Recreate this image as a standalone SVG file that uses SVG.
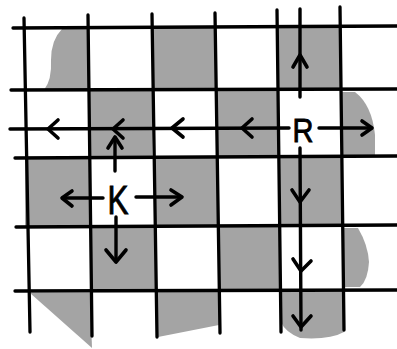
<svg xmlns="http://www.w3.org/2000/svg" width="397" height="349" viewBox="0 0 397 349">
<style>
.sh{fill:#a4a4a4;stroke:none}
.gl{stroke:#000;stroke-width:3.3;stroke-linecap:round;fill:none}
.ar{stroke:#000;stroke-width:3.4;stroke-linecap:round;fill:none}
.hd{stroke:#000;stroke-width:3.6;stroke-linecap:round;stroke-linejoin:round;fill:none}
.lb{font-family:"Liberation Sans",Arial,sans-serif;fill:#000;stroke:#000;stroke-width:0.9}
</style>
<rect width="397" height="349" fill="#fff"/>
<g id="shading">
<path class="sh" d="M62,29 H88 V90 H44 Q52,80 51,60 Q51,40 62,29 Z"/>
<rect class="sh" x="152" y="28" width="63" height="62"/>
<rect class="sh" x="277" y="27" width="63" height="63"/>
<rect class="sh" x="89" y="91" width="63" height="66"/>
<rect class="sh" x="216" y="90" width="62" height="67"/>
<path class="sh" d="M342,92 H355 Q372,105 375,135 V155 H342 Z"/>
<rect class="sh" x="25" y="158" width="64" height="68"/>
<rect class="sh" x="154" y="158" width="64" height="68"/>
<rect class="sh" x="279" y="157" width="63" height="69"/>
<rect class="sh" x="90" y="227" width="66" height="63"/>
<rect class="sh" x="218" y="226" width="62" height="64"/>
<path class="sh" d="M344,228 H358 Q368,245 369,262 Q368,280 360,287 H344 Z"/>
<path class="sh" d="M30,293 H90 L92,348 Z"/>
<path class="sh" d="M157,292 H219 V325 L158,337 Z"/>
<path class="sh" d="M280,292 H344 V332 Q330,340 300,338 Q285,332 281,322 Z"/>
</g>
<g id="grid">
<line class="gl" x1="13" y1="28" x2="397" y2="26"/>
<line class="gl" x1="11" y1="90" x2="397" y2="89"/>
<line class="gl" x1="15" y1="158" x2="397" y2="156"/>
<line class="gl" x1="16" y1="227" x2="397" y2="225"/>
<line class="gl" x1="15" y1="291" x2="397" y2="290"/>
<line class="gl" x1="24" y1="18" x2="30" y2="332"/>
<line class="gl" x1="88" y1="15" x2="92" y2="336"/>
<line class="gl" x1="152" y1="14" x2="157" y2="337"/>
<line class="gl" x1="215" y1="13" x2="220" y2="333"/>
<line class="gl" x1="277" y1="10" x2="281" y2="332"/>
<line class="gl" x1="340" y1="7" x2="344" y2="330"/>
</g>
<g id="connectors">
<line class="ar" x1="10" y1="129" x2="289" y2="128"/>
<polyline class="hd" points="58,120 48,129 58,138"/>
<polyline class="hd" points="123,120 113,129 123,138"/>
<polyline class="hd" points="183,119 172,128 183,137"/>
<polyline class="hd" points="252,119 242,128 252,137"/>
<line class="ar" x1="319" y1="128" x2="371" y2="128"/>
<polyline class="hd" points="362,121 372,128 362,135"/>
<line class="ar" x1="300" y1="9" x2="300" y2="97"/>
<polyline class="hd" points="293,67 300,55 307,67"/>
<line class="ar" x1="300" y1="148" x2="301" y2="330"/>
<polyline class="hd" points="292,190 300,202 309,190"/>
<polyline class="hd" points="293,259 301,271 311,261"/>
<polyline class="hd" points="293,316 301,327 311,316"/>
<line class="ar" x1="63" y1="198" x2="103" y2="198"/>
<polyline class="hd" points="72,191 62,198 72,206"/>
<line class="ar" x1="136" y1="197" x2="181" y2="197"/>
<polyline class="hd" points="171,190 182,197 171,205"/>
<line class="ar" x1="116" y1="217" x2="116" y2="261"/>
<polyline class="hd" points="106,250 116,262 126,250"/>
<line class="ar" x1="115" y1="171" x2="115" y2="138"/>
<polyline class="hd" points="108,148 115,137 122,148"/>
</g>
<g id="R">
<text class="lb" x="303" y="142" font-size="34" text-anchor="middle" textLength="21" lengthAdjust="spacingAndGlyphs">R</text>
</g>
<g id="K">
<text class="lb" x="118" y="214" font-size="41" text-anchor="middle" textLength="21" lengthAdjust="spacingAndGlyphs">K</text>
</g>
</svg>
